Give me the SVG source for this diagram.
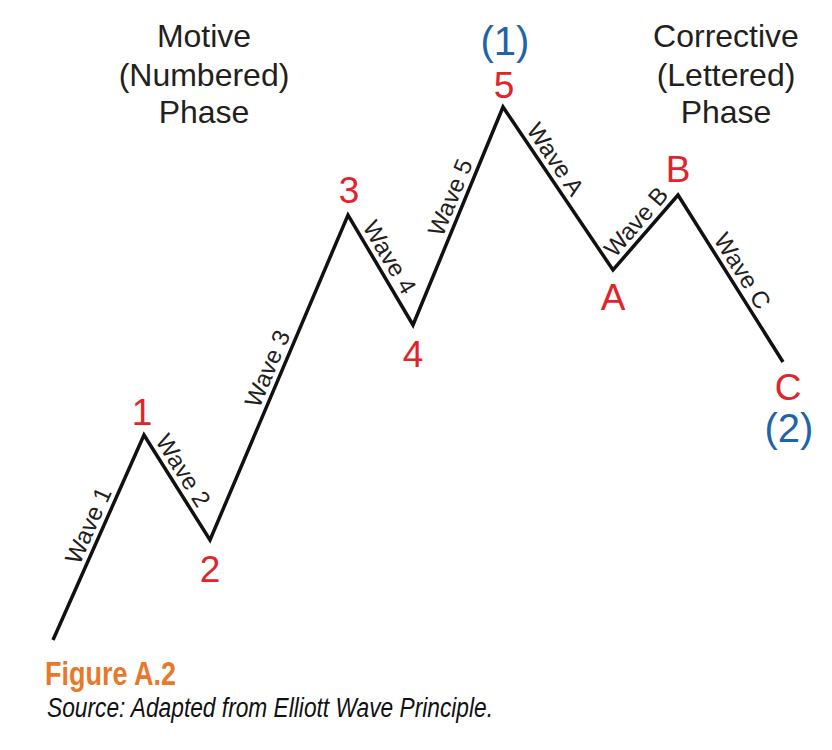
<svg xmlns="http://www.w3.org/2000/svg" width="832" height="750" viewBox="0 0 832 750">
<style>
text{font-family:"Liberation Sans",Arial,sans-serif}
.title{font-size:32px;fill:#231f20;text-anchor:middle}
.pt{font-size:37px;fill:#e2232a;text-anchor:middle}
.deg{font-size:40px;fill:#1f63a8;text-anchor:middle}
.wl{font-size:24px;fill:#231f20;text-anchor:middle}
.wave{fill:none;stroke:#111;stroke-width:3.5;stroke-linejoin:miter;stroke-miterlimit:10}
</style>
<rect width="832" height="750" fill="#fff"/>
<g id="phase-titles">
<text class="title" x="204" y="47">Motive</text>
<text class="title" x="204" y="86">(Numbered)</text>
<text class="title" x="204" y="123">Phase</text>
<text class="title" x="726" y="47">Corrective</text>
<text class="title" x="726" y="86">(Lettered)</text>
<text class="title" x="726" y="123">Phase</text>
</g>
<g id="connectors">
<polyline class="wave" points="53,640 144,435 210,540 348,215 413,325 503,107 613,270 678,195 783,362"/>
</g>
<g id="wave-labels">
<g id="wave1" transform="translate(101.2,531.3) rotate(-66.06)"><text class="wl" x="0" y="-6">Wave 1</text></g>
<g id="wave2" transform="translate(171.1,478.1) rotate(57.85)"><text class="wl" x="0" y="-6">Wave 2</text></g>
<g id="wave3" transform="translate(280.4,374.2) rotate(-67)"><text class="wl" x="0" y="-6">Wave 3</text></g>
<g id="wave4" transform="translate(377.3,264.5) rotate(59.4)"><text class="wl" x="0" y="-6">Wave 4</text></g>
<g id="wave5" transform="translate(463.4,202.9) rotate(-67.57)"><text class="wl" x="0" y="-6">Wave 5</text></g>
<g id="waveA" transform="translate(543.7,167.3) rotate(55.98)"><text class="wl" x="0" y="-6">Wave A</text></g>
<g id="waveB" transform="translate(646.8,231) rotate(-49.09)"><text class="wl" x="0" y="-6">Wave B</text></g>
<g id="waveC" transform="translate(730.5,278.5) rotate(57.84)"><text class="wl" x="0" y="-6">Wave C</text></g>
</g>
<g id="point-labels">
<g id="p1"><text class="pt" x="142" y="425">1</text></g>
<g id="p2"><text class="pt" x="210" y="582">2</text></g>
<g id="p3"><text class="pt" x="349" y="203">3</text></g>
<g id="p4"><text class="pt" x="413" y="367">4</text></g>
<g id="p5"><text class="pt" x="504" y="98">5</text><text class="deg" x="505" y="55">(1)</text></g>
<g id="pA"><text class="pt" x="613" y="310">A</text></g>
<g id="pB"><text class="pt" x="678" y="182">B</text></g>
<g id="pC"><text class="pt" x="788" y="400">C</text><text class="deg" x="789" y="442">(2)</text></g>
</g>
<g id="caption">
<text x="45" y="685" font-size="33" font-weight="bold" fill="#e8792b" textLength="131" lengthAdjust="spacingAndGlyphs">Figure A.2</text>
<text x="47" y="717" font-size="27" font-style="italic" fill="#111" textLength="446" lengthAdjust="spacingAndGlyphs">Source: Adapted from Elliott Wave Principle.</text>
</g>
</svg>
